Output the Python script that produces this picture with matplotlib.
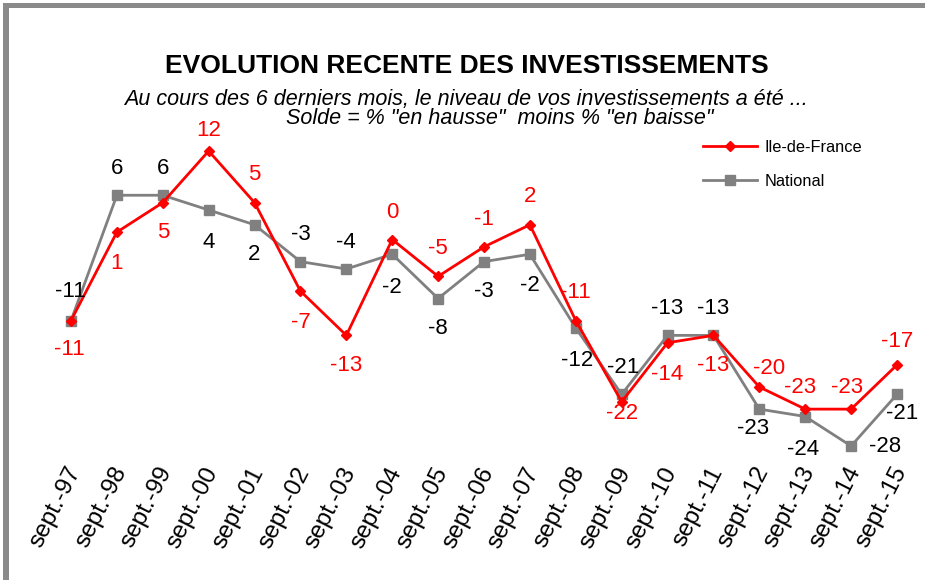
import matplotlib
matplotlib.use("Agg")
import matplotlib.pyplot as plt
from matplotlib.patches import Rectangle
from matplotlib.transforms import ScaledTranslation

plt.rcParams['font.family'] = ['Liberation Sans', 'DejaVu Sans']

# ---- data ----
categories = ["sept.-97", "sept.-98", "sept.-99", "sept.-00", "sept.-01", "sept.-02",
              "sept.-03", "sept.-04", "sept.-05", "sept.-06", "sept.-07", "sept.-08",
              "sept.-09", "sept.-10", "sept.-11", "sept.-12", "sept.-13", "sept.-14",
              "sept.-15"]
idf = [-11, 1, 5, 12, 5, -7, -13, 0, -5, -1, 2, -11, -22, -14, -13, -20, -23, -23, -17]
national = [-11, 6, 6, 4, 2, -3, -4, -2, -8, -3, -2, -12, -21, -13, -13, -23, -24, -28, -21]

title = "EVOLUTION RECENTE DES INVESTISSEMENTS"
subtitle1 = "Au cours des 6 derniers mois, le niveau de vos investissements a été ..."
subtitle2 = 'Solde = % "en hausse"  moins % "en baisse"'

# label offsets in pixels (dx, dy) with dy positive = downwards
idf_off = [(-2, 29), (0, 31), (0, 30), (0, -21), (0, -28), (0, 31), (0, 30), (0, -27),
           (0, -28), (0, -27), (0, -28), (0, -28), (0, 12), (0, 32), (0, 30), (10, -19),
           (-5, -22), (-4, -22), (0, -23)]
nat_off = [(-1, -29), (0, -27), (0, -27), (0, 32), (0, 30), (0, -27), (0, -27), (0, 33),
           (0, 30), (0, 30), (0, 31), (1, 32), (1, -27), (0, -27), (0, -27), (-6, 19),
           (-2, 33), (34, 0), (5, 19)]

RED = "#FF0000"
GRAY = "#808080"

W, H = 925, 580
fig = plt.figure(figsize=(W / 100, H / 100), dpi=100)
fig.patch.set_facecolor("white")

# frame (gray bands top and left)
fig.add_artist(Rectangle((3 / W, 1 - 8 / H), 1, 5 / H, transform=fig.transFigure,
                         facecolor="#8a8a8a", edgecolor="none"))
fig.add_artist(Rectangle((3 / W, 0), 6 / W, 1 - 3 / H, transform=fig.transFigure,
                         facecolor="#8a8a8a", edgecolor="none"))

ax = fig.add_axes([71 / W, (H - 446) / H, (897 - 71) / W, 295 / H])
ax.set_xlim(0, 18)
ax.set_ylim(-28, 12)
x = list(range(len(categories)))

ax.plot(x, national, color=GRAY, lw=2.0, marker="s", ms=6.8, mec=GRAY, mfc=GRAY,
        label="National", clip_on=False, zorder=3)
ax.plot(x, idf, color=RED, lw=2.0, marker="D", ms=5.5, mec=RED, mfc=RED,
        label="Ile-de-France", clip_on=False, zorder=4)

pt = 72 / 100
for i, v in enumerate(idf):
    dx, dy = idf_off[i]
    ax.annotate(str(v), (i, v), xytext=(dx * pt, -dy * pt), textcoords="offset points",
                ha="center", va="center", color=RED, fontsize=16, zorder=5,
                annotation_clip=False)
for i, v in enumerate(national):
    dx, dy = nat_off[i]
    ax.annotate(str(v), (i, v), xytext=(dx * pt, -dy * pt), textcoords="offset points",
                ha="center", va="center", color="black", fontsize=16, zorder=5,
                annotation_clip=False)

ax.set_xticks(x)
ax.set_xticklabels(categories, rotation=63, ha="right", va="center",
                   rotation_mode="anchor", fontsize=17.5)
ax.tick_params(axis="x", length=0, pad=16)
shift = ScaledTranslation(4 / 100, 0, fig.dpi_scale_trans)
for lab in ax.get_xticklabels():
    lab.set_transform(lab.get_transform() + shift)
ax.set_yticks([])
for s in ax.spines.values():
    s.set_visible(False)

handles, labels = ax.get_legend_handles_labels()
leg = fig.legend(handles[::-1], labels[::-1], loc="upper left",
                 bbox_to_anchor=(688 / W, 1 - 125 / H), frameon=False, fontsize=11.8,
                 handlelength=3.3, labelspacing=1.15, handletextpad=0.45)

fig.text(467 / W, 1 - 66 / H, title, ha="center", va="center", fontsize=19,
         fontweight="bold")
fig.text(466 / W, 1 - 99 / H, subtitle1, ha="center", va="center", fontsize=15.5,
         style="italic")
fig.text(500 / W, 1 - 119 / H, subtitle2, ha="center", va="center", fontsize=15.5,
         style="italic")

fig.savefig("out.png", dpi=100, facecolor="white")
